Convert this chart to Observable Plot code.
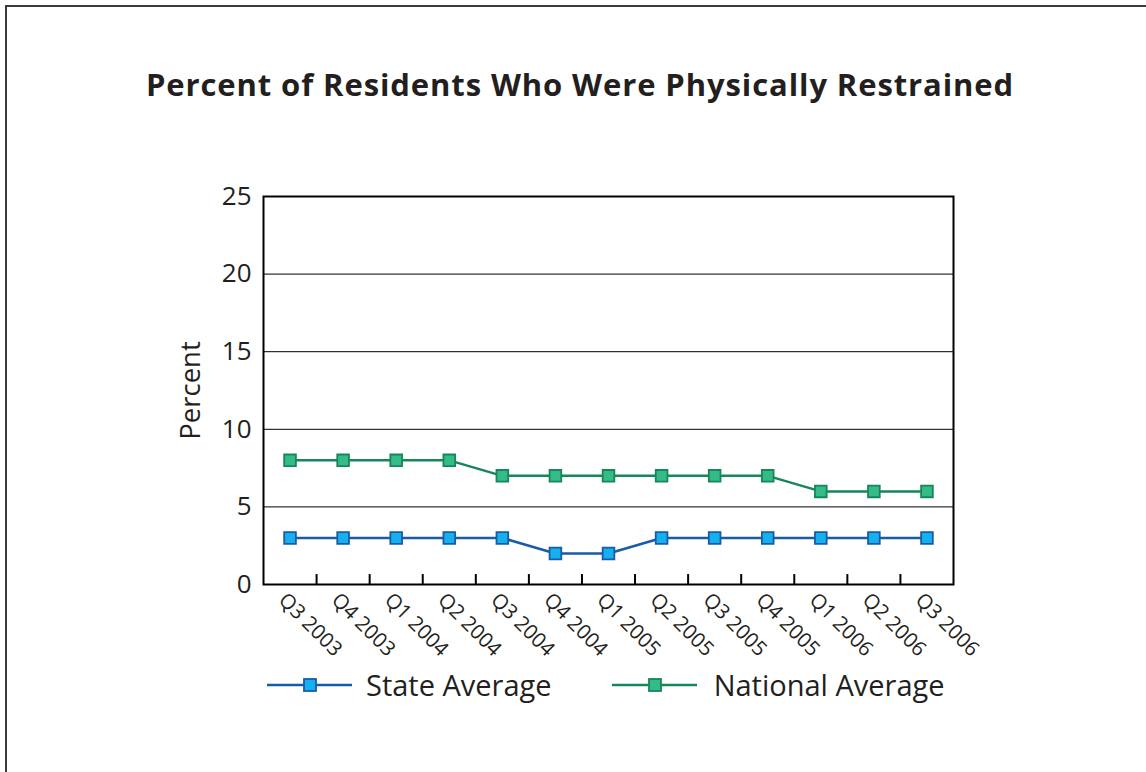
<!DOCTYPE html>
<html>
<head>
<meta charset="utf-8">
<script src="https://cdn.jsdelivr.net/npm/d3@7"></script>
<script src="https://cdn.jsdelivr.net/npm/@observablehq/plot@0.6"></script>
<style>
  html, body { margin: 0; padding: 0; background: #fff; }
  body { width: 1146px; height: 772px; position: relative; overflow: hidden; font-family: "Open Sans", sans-serif; color: #231f20; }
  #frame { position: absolute; left: 5px; top: 5px; width: 1200px; height: 800px; border-left: 2.5px solid #3a3a3a; border-top: 2.5px solid #3a3a3a; }
  #title { position: absolute; left: 0; width: 1160px; top: 65px; text-align: center; font-size: 31px; font-weight: 700; line-height: 38px; letter-spacing: 0.9px; }
  #chart { position: absolute; left: 0; top: 150px; }
  #legend { position: absolute; top: 664px; left: 267px; display: flex; align-items: center; font-size: 29px; line-height: 42px; }
  .item { display: flex; align-items: center; }
  .item svg { display: block; }
</style>
</head>
<body>
<div id="frame"></div>
<div id="title">Percent of Residents Who Were Physically Restrained</div>
<div id="chart"></div>
<div id="legend"></div>
<script>
const quarters = ["Q3 2003","Q4 2003","Q1 2004","Q2 2004","Q3 2004","Q4 2004","Q1 2005","Q2 2005","Q3 2005","Q4 2005","Q1 2006","Q2 2006","Q3 2006"];
const stateAverage = [3,3,3,3,3,2,2,3,3,3,3,3,3];
const nationalAverage = [8,8,8,8,7,7,7,7,7,7,6,6,6];
const yTicks = [0,5,10,15,20,25];
const gridValues = [5,10,15,20];

const series = [
  {name: "State Average", values: stateAverage, line: "#1a5ba8", fill: "#14b1ee", stroke: "#1a5ba8"},
  {name: "National Average", values: nationalAverage, line: "#15875a", fill: "#35bb88", stroke: "#15875a"}
];

const idx = quarters.map((q, i) => i);
const boundaries = idx.slice(1).map(i => i - 0.5);

const marks = [
  Plot.ruleY(gridValues, {stroke: "#000", strokeWidth: 1}),
  Plot.axisY(yTicks, {tickSize: 0, tickPadding: 12, fontSize: 26, label: null, fill: "#231f20"}),
  Plot.axisX(idx, {tickSize: 0, tickPadding: 12, tickRotate: 45, fontSize: 20.5, label: null, tickFormat: i => quarters[i], fill: "#231f20", dx: -8}),
  Plot.ruleX(boundaries, {y1: 0, y2: 0.64, stroke: "#000", strokeWidth: 2}),
  Plot.text(["Percent"], {frameAnchor: "left", textAnchor: "middle", rotate: -90, dx: -72, fontSize: 27.5, fill: "#231f20"})
];
for (const s of series) {
  const data = s.values.map((v, i) => ({i, v}));
  marks.push(Plot.line(data, {x: "i", y: "v", stroke: s.line, strokeWidth: 2.5}));
  marks.push(Plot.dot(data, {x: "i", y: "v", symbol: "square", r: 6.6, fill: s.fill, stroke: s.stroke, strokeWidth: 1.8}));
}
marks.push(Plot.frame({stroke: "#000", strokeWidth: 2}));

const chart = Plot.plot({
  width: 1146,
  height: 515,
  marginTop: 46,
  marginBottom: 81,
  marginLeft: 263,
  marginRight: 193,
  style: {fontFamily: "'Open Sans', sans-serif", color: "#231f20", background: "transparent"},
  x: {type: "linear", domain: [-0.5, 12.5], axis: null},
  y: {domain: [0, 25], axis: null},
  marks
});
document.getElementById("chart").appendChild(chart);

const legend = document.getElementById("legend");
series.forEach((s, k) => {
  const item = document.createElement("div");
  item.className = "item";
  if (k > 0) item.style.marginLeft = "60px";
  item.innerHTML = `<svg width="85" height="16"><line x1="0" x2="85" y1="8" y2="8" stroke="${s.line}" stroke-width="2.5"/><rect x="37" y="2" width="12" height="12" fill="${s.fill}" stroke="${s.stroke}" stroke-width="1.8"/></svg><span style="margin-left:${k ? 17 : 14}px">${s.name}</span>`;
  legend.appendChild(item);
});
</script>
</body>
</html>
